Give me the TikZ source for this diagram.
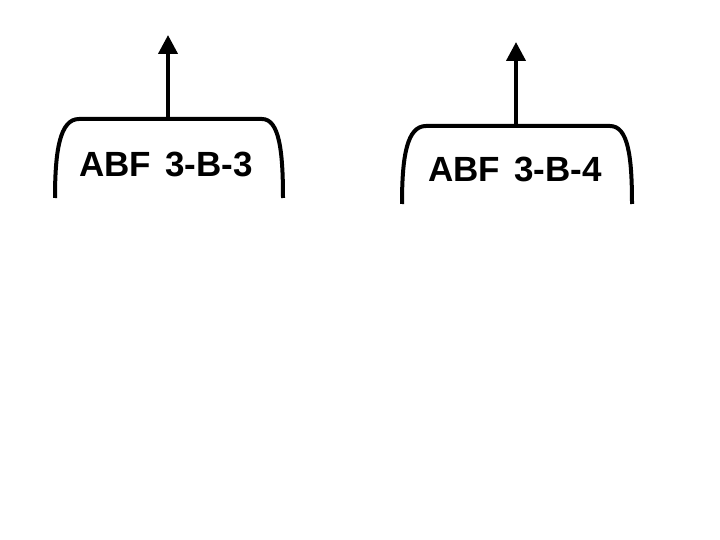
\documentclass[tikz,border=0pt]{standalone}
\usepackage{fontspec}
\setmainfont{Liberation Sans}
\usetikzlibrary{arrows.meta}
\begin{document}
\begin{tikzpicture}[x=1pt,y=-1pt,
  bracketline/.style={line width=4pt,line join=round},
  lbl/.style={inner sep=0pt,font=\bfseries\fontsize{35}{38}\selectfont},
  uparrow/.style={line width=4pt,-{Triangle[width=19pt,length=19pt]}}]
\useasboundingbox[fill=white] (0,0) rectangle (720,540);
% left group
\draw[bracketline] (55,198) .. controls (55,150) and (60,119) .. (79,119) -- (262,119) .. controls (279,119) and (283,150) .. (283,198);
\coordinate (t1) at (168,119);
\coordinate (a1) at (168,35);
\draw[uparrow] (t1) -- (a1);
\node[lbl,anchor=base] (l1) at (166,177) {ABF\hspace{4pt} 3-B-3};
% right group
\draw[bracketline] (402,204) .. controls (402,156) and (407,126) .. (426,126) -- (610,126) .. controls (628,126) and (632,156) .. (632,204);
\coordinate (t2) at (516,126);
\coordinate (a2) at (516,42);
\draw[uparrow] (t2) -- (a2);
\node[lbl,anchor=base] (l2) at (515,182) {ABF\hspace{4pt} 3-B-4};
\end{tikzpicture}
\end{document}
